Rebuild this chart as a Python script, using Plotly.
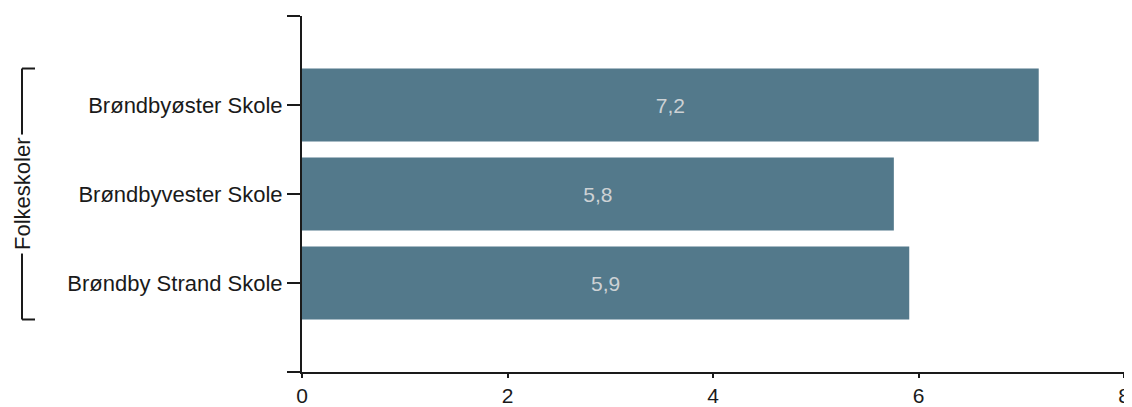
import plotly.graph_objects as go

categories = ["Brøndbyøster Skole", "Brøndbyvester Skole", "Brøndby Strand Skole"]
values = [7.17, 5.76, 5.91]
group_label = "Folkeskoler"
x_ticks = [0, 2, 4, 6, 8]

FONT = "Liberation Sans, Arial, sans-serif"
BAR_COLOR = "#53798B"
AXIS_COLOR = "#1a1a1a"

pos = list(range(len(categories)))
n = len(categories)

fig = go.Figure()
fig.add_trace(go.Bar(
    x=values,
    y=pos,
    orientation="h",
    width=0.82,
    marker=dict(color=BAR_COLOR, line=dict(width=0)),
    texttemplate="%{x:.1f}",
    textposition="inside",
    insidetextanchor="middle",
    textangle=0,
    textfont=dict(family=FONT, size=21, color="#cdd2d5"),
    hoverinfo="skip",
))

# the page body has an 8px default margin, so the figure is sized to fit the window
fig.update_layout(
    width=1124, height=399,
    margin=dict(l=294, r=8, t=8, b=35, autoexpand=False),
    plot_bgcolor="white", paper_bgcolor="white",
    separators=", ",
    showlegend=False,
    font=dict(family=FONT, color=AXIS_COLOR),
    xaxis=dict(
        range=[0, 8], tickvals=x_ticks, ticktext=[str(t) for t in x_ticks],
        showgrid=False, zeroline=False, automargin=False,
        showline=True, linecolor=AXIS_COLOR, linewidth=2,
        ticks="outside", ticklen=4, tickwidth=1.5, tickcolor=AXIS_COLOR,
        ticklabelstandoff=0,
        tickfont=dict(family=FONT, size=21, color=AXIS_COLOR),
    ),
    yaxis=dict(
        range=[n, -1],
        tickvals=[-1] + pos + [n],
        ticktext=[""] + categories + [""],
        showgrid=False, zeroline=False, automargin=False,
        showline=True, linecolor=AXIS_COLOR, linewidth=2,
        ticks="outside", ticklen=13, tickwidth=1.5, tickcolor=AXIS_COLOR,
        tickfont=dict(family=FONT, size=22, color=AXIS_COLOR),
    ),
)

# group bracket on the left
bx = -0.3406  # paper x of bracket spine
bx2 = -0.3248
top = pos[0] - 0.41
bot = pos[-1] + 0.41
line = dict(color=AXIS_COLOR, width=2)
fig.add_shape(type="line", xref="paper", yref="y", x0=bx, x1=bx, y0=top, y1=bot, line=line)
fig.add_shape(type="line", xref="paper", yref="y", x0=bx, x1=bx2, y0=top, y1=top, line=line)
fig.add_shape(type="line", xref="paper", yref="y", x0=bx, x1=bx2, y0=bot, y1=bot, line=line)
fig.add_annotation(
    xref="paper", yref="y", x=bx, y=(pos[0] + pos[-1]) / 2,
    text=group_label, textangle=-90, showarrow=False,
    font=dict(family=FONT, size=22, color=AXIS_COLOR),
    bgcolor="white", borderpad=3, xanchor="center", yanchor="middle",
)

fig.write_html("out.html")
